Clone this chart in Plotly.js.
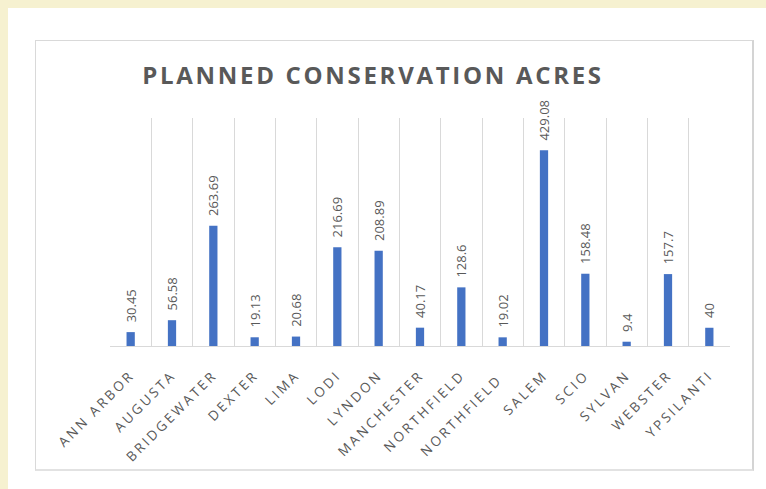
<!DOCTYPE html>
<html>
<head>
<meta charset="utf-8">
<script src="https://cdn.plot.ly/plotly-3.0.1.min.js"></script>
<style>
  html, body { margin:0; padding:0; width:766px; height:489px; overflow:hidden; background:#F6F1D0; }
  #white { position:absolute; left:8px; top:8px; width:758px; height:481px; background:#ffffff; }
  #frame { position:absolute; left:35px; top:40px; width:716px; height:428px; border:1px solid #d9d9d9; border-right:2px solid #d4d4d4; border-bottom:2px solid #e2e2e2; }
  #chart { position:absolute; left:0; top:0; width:766px; height:489px; }
  .xtick text { letter-spacing:2.7px; }
  .gtitle { letter-spacing:2.7px; }
</style>
</head>
<body>
<div id="white"></div>
<div id="frame"></div>
<div id="chart"></div>
<script>
const townships = ["ANN ARBOR","AUGUSTA","BRIDGEWATER","DEXTER","LIMA","LODI","LYNDON","MANCHESTER","NORTHFIELD","NORTHFIELD ","SALEM","SCIO","SYLVAN","WEBSTER","YPSILANTI"];
const acres = [30.45, 56.58, 263.69, 19.13, 20.68, 216.69, 208.89, 40.17, 128.6, 19.02, 429.08, 158.48, 9.4, 157.7, 40];
const acreLabels = ["30.45","56.58","263.69","19.13","20.68","216.69","208.89","40.17","128.6","19.02","429.08","158.48","9.4","157.7","40"];

const trace = {
  type: 'bar',
  x: townships,
  y: acres,
  text: acreLabels,
  texttemplate: '\u00A0\u00A0%{text}',
  textposition: 'outside',
  textangle: -90,
  constraintext: 'none',
  cliponaxis: false,
  textfont: { family: 'Open Sans', size: 13, color: '#595959' },
  marker: { color: '#4472C4' },
  hoverinfo: 'none'
};

const layout = {
  width: 766, height: 489,
  margin: { l: 110, r: 36, t: 118, b: 143 },
  paper_bgcolor: 'rgba(0,0,0,0)',
  plot_bgcolor: 'rgba(0,0,0,0)',
  bargap: 0.8,
  showlegend: false,
  title: {
    text: 'PLANNED CONSERVATION ACRES',
    font: { family: 'Open Sans', size: 24, color: '#595959', weight: 'bold' },
    xref: 'container', x: 0.487, xanchor: 'center',
    yref: 'container', y: 0.8446, yanchor: 'middle'
  },
  xaxis: {
    type: 'category',
    tickson: 'boundaries',
    showgrid: true, gridcolor: '#d9d9d9', gridwidth: 1,
    showline: true, linecolor: '#d9d9d9', linewidth: 1,
    ticks: '', tickangle: -45,
    ticklabelstandoff: 15,
    tickfont: { family: 'Open Sans', size: 13.5, color: '#595959' },
    fixedrange: true
  },
  yaxis: {
    range: [0, 500],
    showgrid: false, zeroline: false, showline: false,
    showticklabels: false, ticks: '',
    fixedrange: true
  }
};

Plotly.newPlot('chart', [trace], layout, { displayModeBar: false, staticPlot: true });
</script>
</body>
</html>
